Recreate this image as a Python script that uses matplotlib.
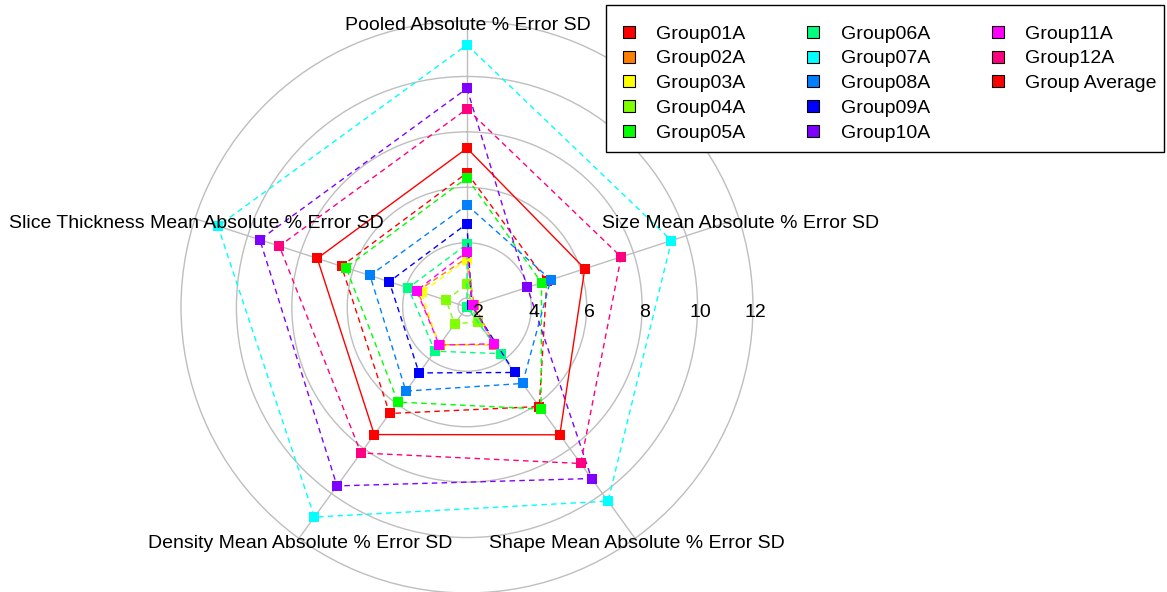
import numpy as np
import matplotlib
matplotlib.use("Agg")
import matplotlib.pyplot as plt
from matplotlib.lines import Line2D
from matplotlib.patches import Rectangle

plt.rcParams['font.family'] = ['Liberation Sans', 'DejaVu Sans']

# Ejes del radar (sentido horario desde arriba)
axis_labels = ["Pooled Absolute % Error SD",
               "Size Mean Absolute % Error SD",
               "Shape Mean Absolute % Error SD",
               "Density Mean Absolute % Error SD",
               "Slice Thickness Mean Absolute % Error SD"]

groups = ["Group01A", "Group02A", "Group03A", "Group04A", "Group05A", "Group06A",
          "Group07A", "Group08A", "Group09A", "Group10A", "Group11A", "Group12A",
          "Group Average"]

colors = ["#FF0000", "#FF8000", "#FFFF00", "#80FF00", "#00FF00", "#00FF80",
          "#00FFFF", "#0080FF", "#0000FF", "#8000FF", "#FF00FF", "#FF0080",
          "#FF0000"]

# Valores por eje, un elemento por grupo (mismo orden que groups)
pooled    = [6.52, 3.45, 3.38, 2.50, 6.34, 3.95, 11.14, 5.36, 4.69, 9.57, 3.68, 8.83, 7.41]
size      = [4.71, 1.95, 1.90, 1.85, 4.51, 1.68, 9.44, 4.86, 1.86, 3.97, 1.90, 7.53, 6.15]
shape     = [6.12, 3.36, 3.35, 2.33, 6.23, 3.76, 10.34, 5.09, 4.60, 9.33, 3.32, 8.66, 7.38]
density   = [6.43, 3.36, 3.40, 2.44, 5.92, 3.65, 11.05, 5.43, 4.62, 9.66, 3.38, 8.19, 7.37]
slice_thk = [6.44, 3.55, 3.40, 2.47, 6.27, 3.91, 11.13, 5.36, 4.63, 9.54, 3.59, 8.80, 7.36]

rings = [2, 4, 6, 8, 10, 12]
r_min = 1.68   # valor en el centro del radar
r_max = 12

GRIS = "#BEBEBE"
W, H = 1167, 592

fig = plt.figure(figsize=(W / 100, H / 100), dpi=100)
ax = fig.add_axes([0.1551, -0.0017, 0.4901, 0.9662], projection='polar')
ax.set_theta_offset(np.pi / 2)
ax.set_theta_direction(-1)
ax.set_ylim(r_min, r_max)
ax.set_xticks([])
ax.set_yticks(rings[:-1])
ax.set_yticklabels([])
ax.yaxis.grid(True, color=GRIS, linewidth=1.0)
# el anillo exterior (12) es el borde del eje polar
ax.spines['polar'].set_color(GRIS)
ax.spines['polar'].set_linewidth(1.0)
ax.set_facecolor('none')

angles = np.linspace(0, 2 * np.pi, len(axis_labels), endpoint=False)

# Radios grises
for a in angles:
    ax.plot([a, a], [r_min, r_max], color=GRIS, linewidth=1.0, zorder=1)

# Etiquetas de los anillos sobre el eje derecho
for t in rings:
    ax.annotate(str(t), xy=(np.pi / 2, t), xytext=(2, -4), textcoords='offset points',
                ha='center', va='center', fontsize=14, annotation_clip=False)

# Nombres de los ejes
for a, lab in zip(angles, axis_labels):
    ax.annotate(lab, xy=(a, r_max), xytext=(1, -3.5), textcoords='offset points',
                ha='center', va='center', fontsize=14, annotation_clip=False)

# Series: línea y puntos, grupo por grupo
theta = np.append(angles, angles[0])
for i, g in enumerate(groups):
    vals = [pooled[i], size[i], shape[i], density[i], slice_thk[i]]
    vals = vals + [vals[0]]
    z = 2 + i * 0.01
    if g == "Group Average":
        ax.plot(theta, vals, color=colors[i], linewidth=1.0, linestyle='-', zorder=z)
    else:
        ax.plot(theta, vals, color=colors[i], linewidth=1.0, dashes=(4, 3), zorder=z)
    ax.plot(theta[:-1], vals[:-1], linestyle='none', marker='s', markersize=7,
            markeredgewidth=0, color=colors[i], zorder=z + 0.005)

handles = [Line2D([], [], linestyle='none', marker='s', markersize=9,
                  markerfacecolor=c, markeredgecolor='black', markeredgewidth=0.8)
           for c in colors]
labels = list(groups)
# dos huecos vacíos para que la tercera columna tenga solo tres entradas
for _ in range(2):
    handles.append(Line2D([], [], linestyle='none', marker=None))
    labels.append("")

leg = fig.legend(handles, labels, loc='upper left',
                 bbox_to_anchor=(621 / W, 1 - 25 / H),
                 ncol=3, fontsize=14, frameon=False, borderpad=0,
                 labelspacing=0.37, handletextpad=1.0, columnspacing=3.1,
                 handlelength=0.8, borderaxespad=0)

# Marco de la leyenda
fig.patches.append(Rectangle((606 / W, 1 - 152 / H), (1164 - 606) / W, (152 - 5) / H,
                             transform=fig.transFigure, facecolor='white',
                             edgecolor='black', linewidth=1.0, zorder=0))
leg.set_zorder(5)

fig.savefig("out.png", dpi=100)
